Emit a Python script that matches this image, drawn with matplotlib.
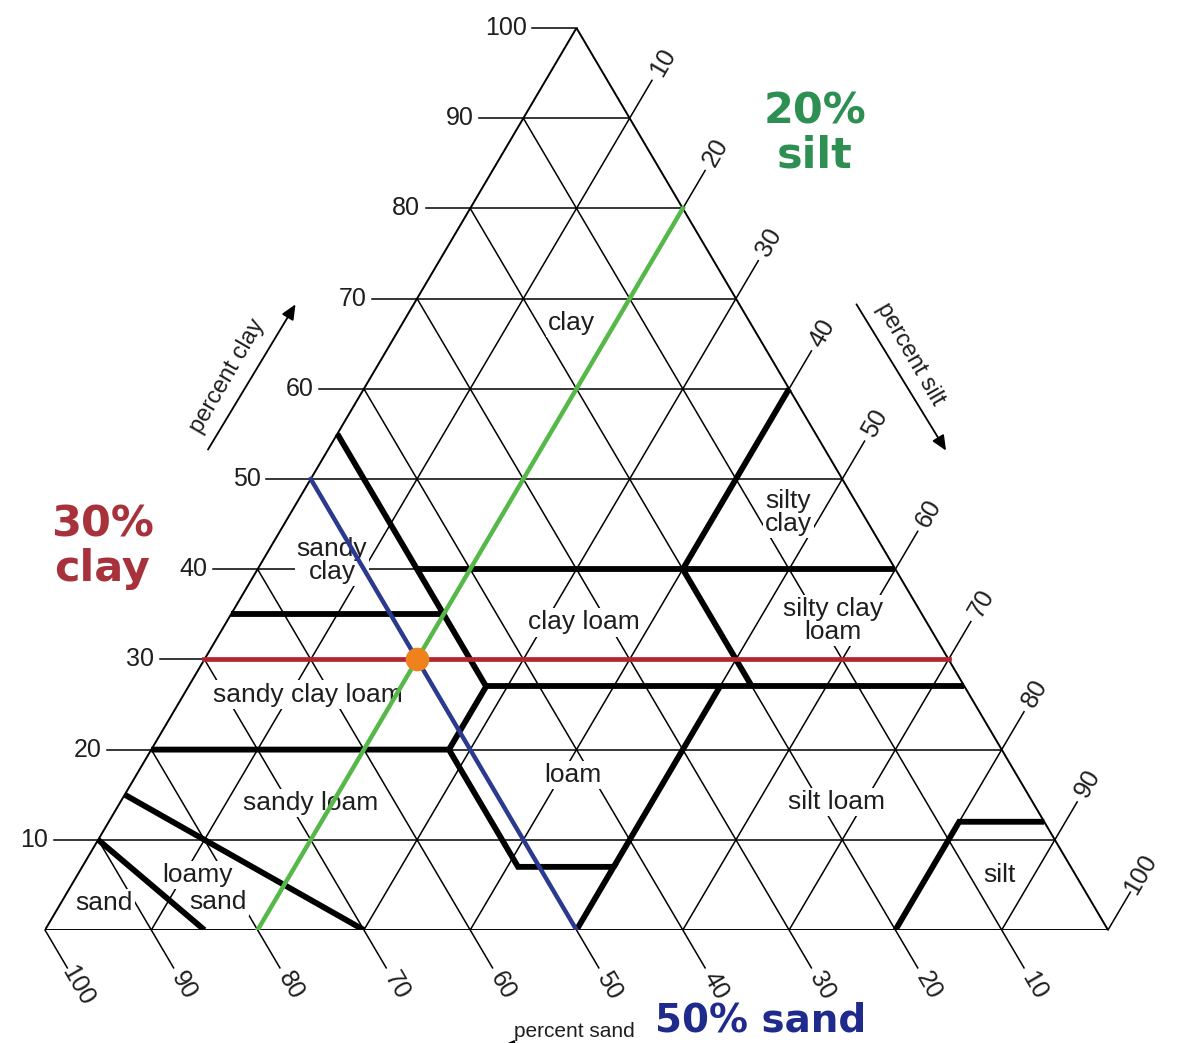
import numpy as np
import matplotlib
matplotlib.use("Agg")
import matplotlib.pyplot as plt
from matplotlib import font_manager

# ---------------- data ----------------
tick_values = [10, 20, 30, 40, 50, 60, 70, 80, 90, 100]

# texture class boundaries, points as (sand, silt, clay)
boundaries = [
    [(90, 0, 10), (85, 15, 0)],
    [(85, 0, 15), (70, 30, 0)],
    [(80, 0, 20), (52, 28, 20), (52, 41, 7), (43, 50, 7), (50, 50, 0)],
    [(52, 28, 20), (45, 28, 27), (45, 0, 55)],
    [(65, 0, 35), (45, 20, 35)],
    [(45, 28, 27), (0, 73, 27)],
    [(45, 15, 40), (0, 60, 40)],
    [(43, 50, 7), (23, 50, 27)],
    [(20, 53, 27), (20, 40, 40), (0, 40, 60)],
    [(20, 80, 0), (8, 80, 12), (0, 88, 12)],
]

class_names = ["clay", "silty\nclay", "sandy\nclay", "clay loam", "silty clay\nloam",
               "sandy clay loam", "loam", "silt loam", "sandy loam", "loamy", "sand", "sand", "silt"]
# label anchor positions as (silt, clay)
class_pos = [(15.9, 67.3), (46.8, 46.3), (6.5, 41.0), (33.6, 34.1), (57.0, 34.3),
             (11.7, 26.1), (41.1, 17.2), (67.4, 14.2), (17.9, 14.1), (11.3, 6.1),
             (14.7, 3.1), (4.05, 3.0), (86.7, 6.1)]

sample = (50, 20, 30)  # sand, silt, clay

# ---------------- helpers ----------------
H = np.sqrt(3) / 2


def tern(sand, silt, clay):
    return silt + clay / 2.0, clay * H


_names = {f.name for f in font_manager.fontManager.ttflist}
if "Liberation Sans Narrow" in _names:
    FONT = ["Liberation Sans Narrow", "DejaVu Sans"]
    FS_TICK, FS_LAB, FS_AX, FS_SAND = 20, 21, 19, 17
else:
    FONT = ["Liberation Sans", "DejaVu Sans"]
    FS_TICK, FS_LAB, FS_AX, FS_SAND = 18, 19, 17, 15

W, Hpx = 1179, 1043
fig = plt.figure(figsize=(W / 100, Hpx / 100), dpi=100)
ax = fig.add_axes([45 / W, 113 / Hpx, 1063 / W, 902 / Hpx])
ax.set_xlim(0, 100)
ax.set_ylim(0, 100 * H)
ax.axis("off")

thin = dict(color="black", lw=1.1, zorder=1, solid_capstyle="butt")
TXT = "#1e1e1e"

# outline
tri = [tern(100, 0, 0), tern(0, 100, 0), tern(0, 0, 100), tern(100, 0, 0)]
ax.plot([p[0] for p in tri], [p[1] for p in tri], color="black", lw=1.4, zorder=1)

# grid
for v in tick_values[:-1]:
    a, b = tern(100 - v, 0, v), tern(0, 100 - v, v)
    ax.plot([a[0], b[0]], [a[1], b[1]], **thin)
    a, b = tern(100 - v, v, 0), tern(0, v, 100 - v)
    ax.plot([a[0], b[0]], [a[1], b[1]], **thin)
    a, b = tern(v, 100 - v, 0), tern(v, 0, 100 - v)
    ax.plot([a[0], b[0]], [a[1], b[1]], **thin)

TL = 4.2
LO = 6.2
d_up = np.array([0.5, H])
d_dn = np.array([0.5, -H])
for v in tick_values:
    # clay ticks on left edge
    p = np.array(tern(100 - v, 0, v))
    ax.plot([p[0] - TL, p[0]], [p[1], p[1]], color="black", lw=1.1, clip_on=False)
    ax.text(p[0] - 4.7, p[1], str(v), ha="right", va="center", fontsize=FS_TICK,
            family=FONT, color=TXT)
    # silt ticks on right edge
    p = np.array(tern(0, v, 100 - v))
    e = p + TL * d_up
    ax.plot([p[0], e[0]], [p[1], e[1]], color="black", lw=1.1, clip_on=False)
    q = p + LO * d_up
    ax.text(q[0], q[1], str(v), ha="center", va="center", rotation=60,
            rotation_mode="anchor", fontsize=FS_TICK, family=FONT, color=TXT)
    # sand ticks on bottom edge
    p = np.array(tern(v, 100 - v, 0))
    e = p + TL * d_dn
    ax.plot([p[0], e[0]], [p[1], e[1]], color="black", lw=1.1, clip_on=False)
    q = p + LO * d_dn
    ax.text(q[0], q[1], str(v), ha="center", va="center", rotation=-60,
            rotation_mode="anchor", fontsize=FS_TICK, family=FONT, color=TXT)

# class labels
for name, (si, cl) in zip(class_names, class_pos):
    x, y = tern(100 - si - cl, si, cl)
    ax.text(x, y, name, ha="center", va="center", fontsize=FS_LAB, family=FONT,
            color=TXT, linespacing=0.95, zorder=2,
            bbox=dict(boxstyle="square,pad=0.08", fc="white", ec="none"))

# class boundaries
for line in boundaries:
    pts = [tern(*p) for p in line]
    ax.plot([p[0] for p in pts], [p[1] for p in pts], color="black", lw=4.2,
            zorder=3, solid_joinstyle="miter", solid_capstyle="butt")

# highlighted sample lines
s, si, cl = sample
a, b = tern(100 - cl, 0, cl), tern(0, 100 - cl, cl)
ax.plot([a[0], b[0]], [a[1], b[1]], color="#b3262d", lw=3.4, zorder=4)
a, b = tern(100 - si, si, 0), tern(0, si, 100 - si)
ax.plot([a[0], b[0]], [a[1], b[1]], color="#55b848", lw=3.2, zorder=4)
a, b = tern(s, 100 - s, 0), tern(s, 0, 100 - s)
ax.plot([a[0], b[0]], [a[1], b[1]], color="#2b3a8e", lw=3.2, zorder=4)
px, py = tern(*sample)
ax.plot([px], [py], "o", ms=16, color="#f0821e", mec="#f0821e", zorder=5)

# axis titles with arrows
arrow = dict(arrowstyle="-|>,head_length=0.9,head_width=0.4", color="black", lw=1.3)
ax.text(17.2, 53.2, "percent clay", rotation=60, rotation_mode="anchor",
        ha="center", va="center", fontsize=FS_AX, family=FONT, color=TXT)
ax.annotate("", xy=(23.7, 60.3), xytext=(15.2, 45.9), arrowprops=arrow)
ax.text(81.4, 55.3, "percent silt", rotation=-60, rotation_mode="anchor",
        ha="center", va="center", fontsize=FS_AX, family=FONT, color=TXT)
ax.annotate("", xy=(84.9, 45.8), xytext=(76.2, 60.3), arrowprops=arrow)
ax.text(49.8, -8.8, "percent sand", ha="center", va="top", fontsize=FS_SAND,
        family=FONT, color=TXT, clip_on=False)
ax.annotate("", xy=(42.5, -11.2), xytext=(56, -11.2), annotation_clip=False,
            arrowprops=arrow)

# big highlight labels
ax.text(72.4, 76.5, "20%\nsilt", ha="center", va="center", fontsize=31,
        fontweight="bold", color="#2e8f52", linespacing=1.05, family="DejaVu Sans")
ax.text(5.4, 36.8, "30%\nclay", ha="center", va="center", fontsize=31,
        fontweight="bold", color="#a8323b", linespacing=1.05, family="DejaVu Sans",
        clip_on=False)
ax.text(57.4, -9.75, "50% sand", ha="left", va="baseline", fontsize=28,
        fontweight="bold", color="#1f2b8c", family="DejaVu Sans", clip_on=False)

fig.savefig("out.png", dpi=100)
